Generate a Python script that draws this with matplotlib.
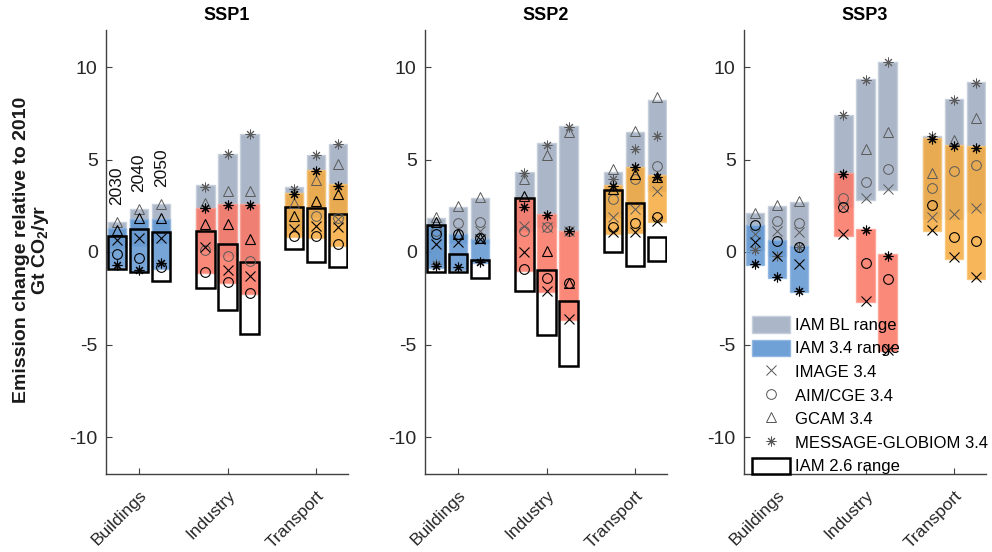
import numpy as np
import matplotlib
matplotlib.use('Agg')
import matplotlib.pyplot as plt
from matplotlib.patches import Patch
from matplotlib.lines import Line2D

plt.rcParams['font.family'] = ['Liberation Sans', 'DejaVu Sans']
plt.rcParams['axes.unicode_minus'] = False

nan = np.nan
sectors = ['Buildings', 'Industry', 'Transport']
years = ['2030', '2040', '2050']
scenarios = ['SSP1', 'SSP2', 'SSP3']
models = ['IMAGE', 'AIM/CGE', 'GCAM', 'MESSAGE-GLOBIOM']

# ---- ranges: [sector][year] ----
bl_hi = {
    'SSP1': [[1.6, 2.32, 2.59], [3.62, 5.3, 6.38], [3.5, 5.24, 5.84]],
    'SSP2': [[1.84, 2.41, 2.92], [4.31, 5.87, 6.79], [4.34, 6.47, 8.23]],
    'SSP3': [[2.11, 2.5, 2.68], [7.42, 9.35, 10.29], [6.29, 8.27, 9.17]],
}
bl_lo = {
    'SSP1': [[0.2, 0.3, 0.5], [0.1, -0.2, -0.48], [1.2, 1.9, 1.8]],
    'SSP2': [[-0.65, 0.5, 0.5], [1.15, 1.33, 1.15], [1.87, 2.32, 3.32]],
    'SSP3': [[0.09, -0.2, 0.27], [2.41, 2.83, 3.37], [1.78, 1.8, 2.23]],
}
r34_hi = {
    'SSP1': [[1.28, 1.8, 1.8], [2.38, 2.62, 2.62], [3.17, 4.42, 3.65]],
    'SSP2': [[1.51, 0.97, 0.7], [2.94, 2.05, 1.15], [3.62, 4.61, 4.16]],
    'SSP3': [[1.48, 0.67, 0.31], [4.25, 1.24, -0.11], [6.16, 5.8, 5.71]],
}
r34_lo = {
    'SSP1': [[-0.8, -1.0, -0.9], [-1.15, -1.68, -2.25], [0.8, 0.75, 0.35]],
    'SSP2': [[-0.85, -0.95, -0.6], [-1.01, -2.15, -3.66], [0.97, 1.01, 1.6]],
    'SSP3': [[-0.7, -1.42, -2.14], [0.88, -2.72, -5.33], [1.15, -0.38, -1.46]],
}
r26_hi = {
    'SSP1': [[0.85, 1.24, 1.06], [1.12, 0.43, -0.52], [2.45, 2.4, 2.05]],
    'SSP2': [[1.48, -0.11, -0.41], [2.94, -0.95, -2.63], [3.35, 2.65, 0.79]],
    'SSP3': None,
}
r26_lo = {
    'SSP1': [[-0.92, -1.1, -1.55], [-1.95, -3.12, -4.43], [0.16, -0.56, -0.83]],
    'SSP2': [[-1.1, -1.1, -1.42], [-2.09, -4.49, -6.14], [0.02, -0.74, -0.47]],
    'SSP3': None,
}

# ---- model results, 3.4 W/m2 (black markers) ----
m34 = {
    'SSP1': {
        'IMAGE':           [[0.66, 0.77, 0.77], [0.25, -0.96, -1.29], [1.24, 1.4, 1.33]],
        'AIM/CGE':         [[-0.11, -0.3, -0.83], [-1.06, -1.64, -2.19], [0.84, 0.85, 0.43]],
        'GCAM':            [[1.2, 1.86, 1.84], [1.51, 1.51, 0.72], [1.93, 2.77, 3.14]],
        'MESSAGE-GLOBIOM': [[-0.7, -0.96, -0.6], [2.36, 2.56, 2.56], [3.14, 4.4, 3.59]],
    },
    'SSP2': {
        'IMAGE':           [[0.43, 0.52, 0.7], [-0.02, -2.09, -3.6], [1.06, 1.06, 1.7]],
        'AIM/CGE':         [[0.97, 0.97, 0.74], [-0.92, -1.38, -1.65], [1.33, 1.57, 1.87]],
        'GCAM':            [[1.6, 0.97, 0.74], [3.04, 0.07, -1.65], [3.4, 4.2, 4.08]],
        'MESSAGE-GLOBIOM': [[-0.74, -0.83, -0.56], [2.41, 2.0, 1.15], [3.58, 4.57, 4.08]],
    },
    'SSP3': {
        'IMAGE':           [[0.54, -0.2, -0.67], [0.97, -2.63, -5.3], [1.2, -0.27, -1.37]],
        'AIM/CGE':         [[1.46, 0.61, 0.27], [2.41, -0.6, -1.46], [2.54, 0.81, 0.61]],
        'GCAM':            [[nan, nan, nan], [nan, nan, nan], [nan, nan, nan]],
        'MESSAGE-GLOBIOM': [[-0.63, -1.37, -2.12], [4.22, 1.2, -0.2], [6.11, 5.75, 5.62]],
    },
}
# ---- model results, baseline (grey markers) ----
mbl = {
    'SSP1': {
        'IMAGE':           [[nan, nan, nan], [nan, nan, nan], [nan, nan, 1.8]],
        'AIM/CGE':         [[nan, nan, nan], [0.1, -0.2, -0.48], [nan, 1.95, 1.85]],
        'GCAM':            [[1.6, 2.3, 2.59], [2.65, 3.32, 3.32], [2.65, 3.9, 4.76]],
        'MESSAGE-GLOBIOM': [[nan, nan, nan], [3.53, 5.3, 6.38], [3.41, 5.24, 5.84]],
    },
    'SSP2': {
        'IMAGE':           [[nan, nan, 1.15], [1.42, 1.33, 1.15], [1.87, 2.32, 3.32]],
        'AIM/CGE':         [[1.15, 1.57, 1.6], [1.15, 1.33, 1.15], [2.89, 3.95, 4.63]],
        'GCAM':            [[1.87, 2.47, 2.95], [3.95, 5.24, 6.47], [4.49, 6.56, 8.36]],
        'MESSAGE-GLOBIOM': [[-0.65, nan, nan], [4.27, 5.78, 6.74], [3.94, 5.57, 6.29]],
    },
    'SSP3': {
        'IMAGE':           [[0.99, 1.15, 1.1], [2.41, 2.9, 3.4], [1.87, 2.05, 2.38]],
        'AIM/CGE':         [[nan, 1.69, 1.57], [2.9, 3.8, 4.48], [3.46, 4.38, 4.68]],
        'GCAM':            [[2.11, 2.56, 2.74], [nan, 5.57, 6.5], [4.27, 6.07, 7.24]],
        'MESSAGE-GLOBIOM': [[0.09, -0.2, 0.27], [7.42, 9.3, 10.29], [6.29, 8.24, 9.12]],
    },
}

markers = {'IMAGE': 'x', 'AIM/CGE': 'o', 'GCAM': '^', 'MESSAGE-GLOBIOM': (8, 2, 0)}
bl_face = '#abb7c9'
bl_edge = '#c6cfdb'
sec_face = ['#5f96d2', '#fb7563', '#f5a93c']
sec_edge = ['#8fb5e0', '#fda093', '#f8c577']
axcol = '#404040'

fig = plt.figure(figsize=(9.92, 5.52), dpi=100)
lefts = [106 / 992, 425 / 992, 744 / 992]
W, H, B = 242 / 992, 444 / 552, 1 - 474 / 552
offs = np.array([-0.25, 0.0, 0.25])
bw = 0.21

for k, ssp in enumerate(scenarios):
    ax = fig.add_axes([lefts[k], B, W, H])
    for s in range(3):
        xs = s + 1 + offs
        hi = np.array(bl_hi[ssp][s]); lo = np.array(bl_lo[ssp][s])
        ax.bar(xs, hi - lo, bottom=lo, width=bw, color=bl_face, edgecolor=bl_edge,
               linewidth=1.0, zorder=1)
        hi = np.array(r34_hi[ssp][s]); lo = np.array(r34_lo[ssp][s])
        ax.bar(xs, hi - lo, bottom=lo, width=bw, color=sec_face[s], edgecolor=sec_edge[s],
               linewidth=1.0, alpha=0.85, zorder=2)
        if r26_hi[ssp] is not None:
            hi = np.array(r26_hi[ssp][s]); lo = np.array(r26_lo[ssp][s])
            ax.bar(xs, hi - lo, bottom=lo, width=bw, fill=False, edgecolor='black',
                   linewidth=1.8, zorder=3)
        for m in models:
            ax.plot(xs, mbl[ssp][m][s], linestyle='none', marker=markers[m], ms=7,
                    mfc='none', mec='#5a5a5a', mew=0.7, zorder=4)
            ax.plot(xs, m34[ssp][m][s], linestyle='none', marker=markers[m], ms=7,
                    mfc='none', mec='black', mew=0.8, zorder=5)
    if ssp == 'SSP1':
        for j, yr in enumerate(years):
            ax.text(1 + offs[j], bl_hi[ssp][0][j] + 0.95, yr, rotation=90,
                    ha='center', va='bottom', fontsize=12.5, color='#111111')
    ax.set_xlim(0.627, 3.361)
    ax.set_ylim(-12, 12)
    ax.set_yticks([-10, -5, 0, 5, 10])
    ax.set_xticks([1, 2, 3])
    ax.set_xticklabels(sectors, rotation=45, ha='right', va='top', rotation_mode='anchor',
                       fontsize=12.5)
    for sp in ['top', 'right']:
        ax.spines[sp].set_visible(False)
    for sp in ['left', 'bottom']:
        ax.spines[sp].set_color(axcol)
        ax.spines[sp].set_linewidth(1.0)
    ax.tick_params(axis='both', direction='in', length=4, color=axcol,
                   labelcolor='#262626')
    ax.tick_params(axis='y', labelsize=14, pad=6)
    ax.tick_params(axis='x', pad=10)
    ax.set_title(ssp, fontsize=13, fontweight='bold', pad=7)
    if ssp == 'SSP3':
        handles = [
            Patch(facecolor=bl_face, edgecolor=bl_edge, label='IAM BL range'),
            Patch(facecolor=sec_face[0], edgecolor=sec_edge[0], alpha=0.9, label='IAM 3.4 range'),
            Line2D([], [], linestyle='none', marker='x', ms=7, mec='#555555', mew=0.7, label='IMAGE 3.4'),
            Line2D([], [], linestyle='none', marker='o', ms=7, mfc='none', mec='#555555', mew=0.7, label='AIM/CGE 3.4'),
            Line2D([], [], linestyle='none', marker='^', ms=7, mfc='none', mec='#555555', mew=0.7, label='GCAM 3.4'),
            Line2D([], [], linestyle='none', marker=(8, 2, 0), ms=7, mec='#555555', mew=0.7, label='MESSAGE-GLOBIOM 3.4'),
            Patch(facecolor='white', edgecolor='black', linewidth=1.8, label='IAM 2.6 range'),
        ]
        ax.legend(handles=handles, loc='upper left', bbox_to_anchor=((752 - 744) / 242, (474 - 316) / 444),
                  frameon=False, fontsize=12, handlelength=2.3, handleheight=1.15,
                  handletextpad=0.3, labelspacing=0.4, borderpad=0, borderaxespad=0)

fig.text(32 / 992, 1 - 250 / 552, 'Emission change relative to 2010\nGt CO$_\\mathregular{2}$/yr',
         rotation=90, ha='center', va='center', multialignment='center',
         fontsize=14, fontweight='bold', color='#1a1a1a', linespacing=1.05)

fig.savefig('out.png', dpi=100)
